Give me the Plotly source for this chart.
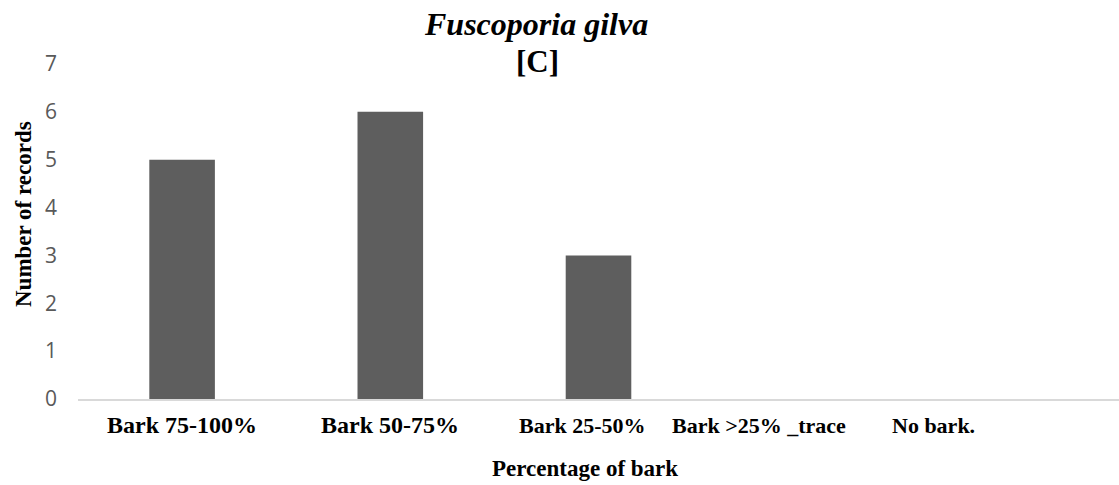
import plotly.graph_objects as go

# Records of Fuscoporia gilva by bark cover class
categories = ["Bark 75-100%", "Bark 50-75%", "Bark 25-50%", "Bark >25% _trace", "No bark."]
records = [5, 6, 3, 0, 0]
y_ticks = [0, 1, 2, 3, 4, 5, 6, 7]

# horizontal nudges (px) and sizes for the category labels under the axis
label_shift = [0, 0, -16, -48, -81]
label_size = [24, 24, 22, 22, 22]

serif = "Liberation Serif, Times New Roman, serif"
sans = "Open Sans, Liberation Sans, sans-serif"

W, H = 1119, 485
L, R, T, B = 78, 0, 64, 86
plot_w = W - L - R
plot_h = H - T - B

def px_x(px):
    return (px - L) / plot_w

def px_y(py):
    return (H - B - py) / plot_h

fig = go.Figure()
fig.add_trace(go.Bar(
    x=categories,
    y=records,
    marker=dict(color="#5e5e5e", line=dict(width=0)),
    width=0.315,
    showlegend=False,
))

for cat, dx, fs in zip(categories, label_shift, label_size):
    fig.add_annotation(
        x=cat, y=0, xref="x", yref="y",
        text=f"<b>{cat}</b>", showarrow=False,
        xshift=dx, yshift=-11 - (24 - fs) * 0.6, yanchor="top",
        font=dict(family=serif, size=fs, color="black"),
    )

# two-line chart heading
fig.add_annotation(
    x=px_x(536), y=px_y(24), xref="paper", yref="paper",
    xanchor="center", yanchor="middle",
    text="<b><i>Fuscoporia gilva</i></b>", showarrow=False,
    font=dict(family=serif, size=32, color="black"),
)
fig.add_annotation(
    x=px_x(537), y=px_y(61), xref="paper", yref="paper",
    xanchor="center", yanchor="middle",
    text="<b>[C]</b>", showarrow=False,
    font=dict(family=serif, size=31, color="black"),
)

# axis titles
fig.add_annotation(
    x=px_x(585), y=px_y(468), xref="paper", yref="paper",
    xanchor="center", yanchor="middle",
    text="<b>Percentage of bark</b>", showarrow=False,
    font=dict(family=serif, size=23, color="black"),
)
fig.add_annotation(
    x=px_x(23), y=px_y(214), xref="paper", yref="paper",
    xanchor="center", yanchor="middle", textangle=-90,
    text="<b>Number of records</b>", showarrow=False,
    font=dict(family=serif, size=23, color="black"),
)

fig.update_layout(
    width=W, height=H,
    margin=dict(l=L, r=R, t=T, b=B),
    plot_bgcolor="white", paper_bgcolor="white",
    bargap=0.685,
    xaxis=dict(
        range=[-0.5, 4.5],
        showticklabels=False,
        showline=True, linecolor="#d9d9d9", linewidth=2,
        showgrid=False, zeroline=False, ticks="",
    ),
    yaxis=dict(
        range=[0, 7], tickvals=y_ticks,
        showgrid=False, zeroline=False, showline=False, ticks="",
        ticklabelstandoff=20,
        tickfont=dict(family=sans, size=21, color="#595959"),
    ),
)

fig.write_html("out.html")
